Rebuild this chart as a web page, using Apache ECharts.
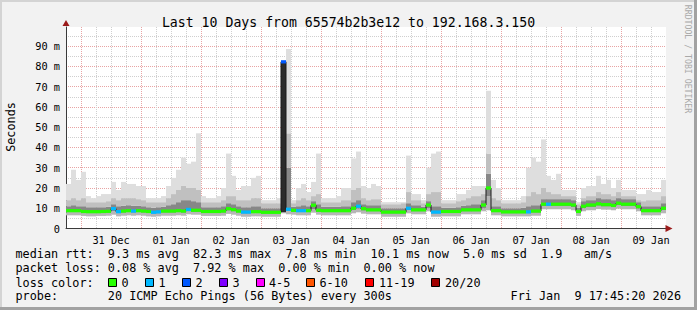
<!DOCTYPE html>
<html><head><meta charset="utf-8">
<script src="https://cdn.jsdelivr.net/npm/echarts@6/dist/echarts.min.js"></script>
<style>html,body{margin:0;padding:0;background:#f2f2f2}#c{width:697px;height:310px}</style>
</head><body><div id="c"></div>
<script>
// ---- data (2-hour buckets from 30 Dec 18:00 to 09 Jan 18:00) ----
const dayLabels = ['31 Dec','01 Jan','02 Jan','03 Jan','04 Jan','05 Jan','06 Jan','07 Jan','08 Jan','09 Jan'];
const yTickLabels = ['0','10 m','20 m','30 m','40 m','50 m','60 m','70 m','80 m','90 m'];
const median = [
 8.8,8.8,8.8,8.4,8.3,8.3,8.3,8.4,8.5,9.8,
 8.3,8.6,8.8,8.6,8.8,8.6,8.4,8.0,8.2,8.6,
 8.6,8.6,8.8,8.6,9.4,9.0,9.0,8.4,8.4,8.4,
 8.4,8.6,9.8,9.3,8.6,8.1,8.1,8.3,8.3,8.0,
 8.0,8.0,8.0,82.3,9.5,9.0,8.8,8.8,8.8,11.5,
 9.0,8.8,8.8,8.8,8.8,8.8,8.8,10.0,11.0,9.8,
 9.2,9.2,9.2,8.1,8.1,8.1,8.1,8.1,10.0,9.2,
 9.2,9.2,11.6,8.1,8.1,8.4,8.4,8.4,8.4,9.2,
 9.2,9.2,9.2,11.6,20.0,8.8,8.8,8.2,8.2,8.2,
 8.2,8.2,8.2,8.6,8.6,12.0,12.0,12.0,12.0,12.0,
 12.0,11.6,8.4,11.0,11.6,11.6,12.2,11.8,11.8,11.4,
 12.5,12.0,12.0,12.0,10.8,8.8,8.8,8.8,8.8,10.0];
const lossClass = [
 0,0,0,0,0,0,0,0,0,1,
 1,0,0,1,0,0,0,1,1,0,
 0,0,0,0,1,0,0,0,0,0,
 0,0,0,0,0,1,1,0,0,0,
 0,0,0,2,1,0,1,1,0,0,
 0,0,0,0,0,0,0,0,1,0,
 0,0,0,0,0,0,0,0,1,0,
 0,0,0,1,1,0,0,0,0,0,
 0,0,0,0,0,0,0,0,0,0,
 0,0,1,0,0,0,1,0,0,0,
 0,0,0,0,0,0,0,0,0,0,
 0,0,0,0,0,0,0,0,0,0];
const pingMin = [
 6.5,6.5,6.5,6.2,6.0,6.0,6.2,6.2,6.3,6.8,
 6.0,6.3,6.5,6.3,6.5,6.3,6.0,5.8,6.0,6.3,
 6.3,6.3,6.5,6.3,7.0,6.8,6.8,6.2,6.2,6.2,
 6.2,6.3,7.2,6.8,6.3,5.8,5.8,6.0,6.0,5.8,
 5.8,5.8,5.8,7.5,7.0,6.8,6.5,6.5,6.5,7.8,
 6.8,6.5,6.5,6.5,6.5,6.5,6.5,7.5,8.0,7.3,
 7.0,7.0,7.0,5.8,5.8,5.8,5.8,5.8,7.5,7.0,
 7.0,7.0,8.5,5.8,5.8,6.0,6.0,6.0,6.0,7.0,
 7.0,7.0,7.0,8.5,9.0,6.5,6.5,6.0,6.0,6.0,
 6.0,6.0,6.0,6.3,6.3,9.5,9.5,9.5,9.5,9.5,
 9.5,9.0,6.2,8.5,9.0,9.0,9.6,9.3,9.3,9.0,
 9.8,9.5,9.5,9.5,8.5,6.5,6.5,6.5,6.5,7.5];
const pingLowMid = [
 8.0,8.0,8.0,7.6,7.5,7.5,7.5,7.6,7.7,8.5,
 7.5,7.8,8.0,7.8,8.0,7.8,7.6,7.3,7.4,7.8,
 7.8,7.8,8.0,7.8,8.4,8.2,8.2,7.6,7.6,7.6,
 7.6,7.8,8.8,8.4,7.8,7.3,7.3,7.5,7.5,7.3,
 7.3,7.3,7.3,8.0,8.5,8.2,8.0,8.0,8.0,9.5,
 8.2,8.0,8.0,8.0,8.0,8.0,8.0,9.0,9.8,8.8,
 8.4,8.4,8.4,7.3,7.3,7.3,7.3,7.3,9.0,8.4,
 8.4,8.4,10.0,7.3,7.3,7.6,7.6,7.6,7.6,8.4,
 8.4,8.4,8.4,10.0,16.0,8.0,8.0,7.4,7.4,7.4,
 7.4,7.4,7.4,7.8,7.8,11.0,11.0,11.0,11.0,11.0,
 11.0,10.6,7.6,10.0,10.6,10.6,11.2,10.8,10.8,10.4,
 11.4,11.0,11.0,11.0,9.8,8.0,8.0,8.0,8.0,9.0];
const pingHighMid = [
 11.0,11.5,11.0,11.0,10.5,10.5,10.5,10.5,10.8,12.0,
 11.0,11.2,11.5,11.2,11.3,11.0,10.5,10.3,10.5,10.8,
 11.5,12.0,13.0,14.0,14.0,13.5,13.0,10.5,10.5,10.5,
 10.5,11.0,12.5,12.0,11.0,10.5,10.5,11.0,11.0,10.0,
 10.0,10.0,10.0,82.3,30.0,10.8,11.0,11.5,11.0,13.5,
 12.0,10.8,10.8,10.8,10.8,11.0,11.0,13.0,14.0,12.0,
 11.5,11.5,11.5,10.0,10.0,10.0,10.0,10.0,12.5,11.5,
 11.5,10.8,13.5,11.0,11.0,10.3,10.3,10.3,10.5,11.2,
 11.5,12.0,12.0,14.0,27.0,11.0,11.0,10.0,10.0,10.0,
 10.0,10.2,11.0,11.5,11.5,14.5,14.5,14.5,14.5,14.5,
 14.5,14.0,10.2,13.5,14.0,14.0,15.0,14.5,14.5,14.0,
 15.0,14.5,14.5,14.5,13.0,11.0,11.0,11.0,11.0,12.5];
const pingHigh = [
 14,15,14,15,13,13,13,13,13.5,15,
 14,15,15,15,14.5,14,13,13,13,13,
 15,17,19,21,20,20,19,13,13,13,
 13,14,16,16,14,14,14,15,15,12.5,
 12.5,12.5,12.5,82.6,47,12.5,14,15,14,16,
 17,13,13,13,13,14,14,19,20,15,
 14,14.5,14.5,12,12,12,12,12.5,18,14,
 14,12.5,17,18,18,12.5,12.5,12.5,13.5,14,
 15,16,16,17,37,15,14,12.5,12.5,12.5,
 12.5,13,16,18,17,20,18,17,17,16,
 16,16,12,15,16,16,18,17,17,16,
 18,16,16,16,14,13.5,14,14,14,16];
const pingMax = [
 22,29,24,28,16,15,16,17,17,23,
 19,23,22,22,21,21,15,15,15,16,
 21,25,29,35,32,33,47,16,15,15,
 16,20,37,26,19,21,21,25,26,14,
 14,14,15,83,88.6,14,20,22,18,23,
 37,15,15,15,16,20,20,34.6,38,21,
 20,22,21,13,13,13,13,13,36,17,
 17,14,30,37,38,14,14,14,17,17,
 19,21,21,21,68,24,20,14,14,14,
 14,16,30,35,33,44,26,24,27,19,
 19,19,13,20,21,21,26,22,24,20,
 24,19,19,19,17,17,19,18,18,24];
const lossColors = ['#26ff00','#00b8ff','#0059ff','#7e00ff','#ff00ff','#ff5500','#ff0000','#a10000'];
const lossLabels = ['0','1','2','3','4-5','6-10','11-19','20/20'];
const titleText = 'Last 10 Days from 65574b2b3e12 to 192.168.3.150';
const legendRows = [
 'median rtt:  9.3 ms avg  82.3 ms max  7.8 ms min  10.1 ms now  5.0 ms sd  1.9   am/s',
 'packet loss: 0.08 % avg  7.92 % max  0.00 % min  0.00 % now',
 'loss color:',
 'probe:       20 ICMP Echo Pings (56 Bytes) every 300s'
];
const dateText = 'Fri Jan  9 17:45:20 2026';

// ---- build ----
const MONO = '"DejaVu Sans Mono", "Liberation Mono", monospace';
const RED = '#e8a4a4', GRAY = '#cfcfcf';
const cats = median.map((_, i) => String(-6 + 2 * i));
const diff = (a, b) => a.map((v, i) => +(v - b[i]).toFixed(3));
const barBase = {type: 'bar', xAxisIndex: 1, yAxisIndex: 0, barCategoryGap: '0%', barGap: '-100%', silent: true, z: 2};
const core = diff(pingHighMid, pingLowMid).map(v => v > 30 ? {value: v, itemStyle: {color: '#2b2b2b'}} : v);

const legendFont = '11.8px ' + MONO;
const rowY = [254, 268.3, 282.5, 296.3];
const boxX = [108.5, 145.5, 182.5, 219.5, 256.5, 306.5, 365.5, 431.5];
const labX = [121.5, 158.5, 195.5, 232.5, 269, 319.5, 379, 445];
const T = (x, y, text, extra) => ({type: 'text', x, y, silent: true,
  style: Object.assign({text, font: legendFont, fill: '#000', align: 'left', verticalAlign: 'middle',
    textAlign: 'left', textVerticalAlign: 'middle'}, extra || {})});
const graphics = [
  {type: 'rect', shape: {x: 0, y: 0, width: 697, height: 2}, style: {fill: '#d4d4d4'}, silent: true},
  {type: 'rect', shape: {x: 0, y: 0, width: 2, height: 310}, style: {fill: '#d4d4d4'}, silent: true},
  {type: 'rect', shape: {x: 0, y: 307, width: 697, height: 3}, style: {fill: '#a2a2a2'}, silent: true},
  {type: 'rect', shape: {x: 694, y: 0, width: 3, height: 310}, style: {fill: '#a2a2a2'}, silent: true},
  {type: 'text', x: 11, y: 127, rotation: Math.PI / 2, silent: true,
   style: {text: 'Seconds', font: legendFont, fill: '#000', align: 'center', verticalAlign: 'middle', textAlign: 'center', textVerticalAlign: 'middle'}},
  {type: 'text', x: 688, y: 59, rotation: -Math.PI / 2, silent: true,
   style: {text: 'RRDTOOL / TOBI OETIKER', font: '8.2px ' + MONO, fill: '#a9a9a9', align: 'center', verticalAlign: 'middle', textAlign: 'center', textVerticalAlign: 'middle'}}
];
legendRows.forEach((t, i) => graphics.push(T(15.5, rowY[i], t)));
graphics.push(T(681, rowY[3], dateText, {align: 'right', textAlign: 'right'}));
lossLabels.forEach((l, i) => {
  graphics.push({type: 'rect', silent: true, shape: {x: boxX[i], y: 278.5, width: 8, height: 8},
    style: {fill: lossColors[i], stroke: '#000', lineWidth: 1}});
  graphics.push(T(labX[i], rowY[2], l));
});

const chart = echarts.init(document.getElementById('c'), null, {renderer: 'svg', width: 697, height: 310});
chart.setOption({
  animation: false,
  backgroundColor: '#f2f2f2',
  title: {text: titleText, left: 'center', top: 11,
    textStyle: {fontFamily: MONO, fontSize: 13.2, fontWeight: 'normal', color: '#000'}},
  grid: {left: 66, right: 31, top: 27, bottom: 81.5, show: true, backgroundColor: '#ffffff', borderWidth: 0,
    containLabel: false, outerBoundsMode: 'none'},
  xAxis: [
    {type: 'value', min: -6, max: 234, interval: 6,
     axisLine: {show: true, onZero: false, lineStyle: {color: '#3a3a3a', width: 1}},
     axisTick: {show: false},
     axisLabel: {show: true, margin: 6, fontFamily: MONO, fontSize: 10.3, color: '#000',
       formatter: v => { const k = (v - 12) / 24; return Number.isInteger(k) && dayLabels[k] ? dayLabels[k] : ''; }},
     splitLine: {show: true, showMinLine: true, showMaxLine: false, lineStyle: {color: [GRAY, RED, GRAY, GRAY], type: [1, 1], width: 1}}},
    {type: 'category', data: cats, boundaryGap: true, position: 'bottom',
     axisLabel: {show: false}, axisTick: {show: false}, splitLine: {show: false},
     axisLine: {show: true, onZero: false, symbol: ['none', 'triangle'], symbolSize: [7, 7], symbolOffset: [0, 3],
       lineStyle: {color: '#9b1b1b', opacity: 0}}}
  ],
  yAxis: [
    {type: 'value', min: 0, max: 99.5, interval: 5,
     axisLine: {show: true, onZero: false, lineStyle: {color: '#3a3a3a', width: 1}},
     axisTick: {show: false},
     axisLabel: {margin: 6, fontFamily: MONO, fontSize: 10.3, color: '#000',
       formatter: v => (v % 10 === 0 && yTickLabels[v / 10] !== undefined) ? yTickLabels[v / 10] : ''},
     splitLine: {show: true, showMaxLine: false, lineStyle: {color: [RED, GRAY], type: [1, 1], width: 1}}},
    {type: 'value', min: 0, max: 99.5, position: 'left',
     axisLabel: {show: false}, axisTick: {show: false}, splitLine: {show: false},
     axisLine: {show: true, onZero: false, symbol: ['none', 'triangle'], symbolSize: [7, 6], symbolOffset: [0, 4],
       lineStyle: {color: '#9b1b1b', opacity: 0}}}
  ],
  series: [
    Object.assign({}, barBase, {stack: 'smoke', data: pingMin, itemStyle: {color: 'rgba(0,0,0,0)'}}),
    Object.assign({}, barBase, {stack: 'smoke', data: diff(pingLowMid, pingMin), itemStyle: {color: '#b6b6b6'}}),
    Object.assign({}, barBase, {stack: 'smoke', data: core, itemStyle: {color: '#878787'}}),
    Object.assign({}, barBase, {stack: 'smoke', data: diff(pingHigh, pingHighMid), itemStyle: {color: '#c0c0c0'}}),
    Object.assign({}, barBase, {stack: 'smoke', data: diff(pingMax, pingHigh), itemStyle: {color: '#dedede'}}),
    {type: 'line', xAxisIndex: 1, yAxisIndex: 0, data: median, step: 'middle', symbol: 'none', silent: true, z: 3,
     lineStyle: {color: '#1a1a1a', width: 1}},
    Object.assign({}, barBase, {stack: 'med', z: 4, data: median.map(v => +(v - 0.8).toFixed(2)), itemStyle: {color: 'rgba(0,0,0,0)'}}),
    Object.assign({}, barBase, {stack: 'med', z: 4, data: median.map((v, i) => ({value: 1.6, itemStyle: {color: lossColors[lossClass[i]]}}))})
  ],
  graphic: graphics
});
</script>
</body></html>
